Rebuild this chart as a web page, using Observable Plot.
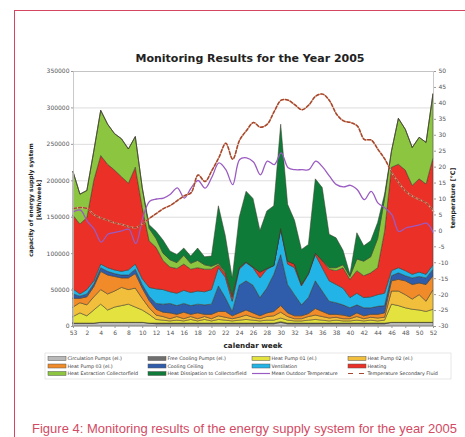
<!DOCTYPE html>
<html>
<head>
<meta charset="utf-8">
<script src="https://cdn.jsdelivr.net/npm/d3@7"></script>
<script src="https://cdn.jsdelivr.net/npm/@observablehq/plot@0.6"></script>
<style>
  html, body { margin: 0; padding: 0; background: #fff; }
  #wrap { position: relative; width: 465px; height: 437px; overflow: hidden; background: #fff; }
  #frame { position: absolute; left: 14px; top: 10px; width: 470px; height: 460px; border: 1.3px solid #d6455f; box-sizing: border-box; }
  #chart { position: absolute; left: 0; top: 0; }
  #overlay { position: absolute; left: 0; top: 0; pointer-events: none; }
</style>
</head>
<body>
<div id="wrap">
  <div id="frame"></div>
  <div id="chart"></div>
  <svg id="overlay" width="465" height="437"></svg>
</div>
<script>
// ---- data (values in thousand kWh/week; index 0 = week 53 of previous year) ----
const weekLabels = [53,1,2,3,4,5,6,7,8,9,10,11,12,13,14,15,16,17,18,19,20,21,22,23,24,25,26,27,28,29,30,31,32,33,34,35,36,37,38,39,40,41,42,43,44,45,46,47,48,49,50,51,52];

const circulationPumps = [4,4,4,4,5,5,5,5,5,5,5,4,3,3,3,3,3,3,3,3,3,3,3,3,3,3,3,3,3,3,5,3,3,3,3,3,3,3,3,3,3,3,3,3,3,3,5,5,5,5,5,5,5];
const freeCoolingPumps = [0,0,0,0,0,0,0,0,0,0,0,0,1,1,1,1,1,1,1,1,1,1,1,1,1,1,1,1,1,1,1,1,1,1,1,1,1,1,1,1,1,1,1,1,1,1,0,0,0,0,0,0,0];
const heatPump01 = [9,14,10,18,25,17,21,23,25,21,17,12,5,4,3,4,3,5,3,5,3,5,4,3,4,5,4,3,4,4,5,4,3,3,4,5,4,3,4,3,3,4,3,4,3,4,25,23,20,18,17,15,18];
const heatPump02 = [13,14,15,18,20,22,22,25,20,26,16,9,6,5,3,5,3,4,3,4,3,5,4,3,4,6,4,3,5,6,8,5,3,3,5,6,5,4,4,3,3,5,3,4,4,4,18,20,18,14,21,14,27];
const heatPump03 = [12,6,11,14,25,26,20,13,16,20,14,10,8,6,8,3,9,3,8,3,6,6,8,4,6,7,6,4,5,6,9,5,4,4,4,9,7,5,4,5,3,5,4,4,5,6,14,16,19,20,16,23,19];
const coolingCeiling = [6,3,4,4,5,5,4,4,4,6,5,6,8,11,13,12,12,12,12,13,14,35,19,6,38,40,38,25,34,51,70,39,29,15,22,38,28,18,16,14,12,11,11,9,11,10,7,9,7,9,9,9,9];
const ventilation = [7,3,6,4,5,5,5,5,7,7,8,12,20,20,16,17,18,18,18,18,20,25,28,14,22,25,24,27,26,12,35,28,37,26,32,36,32,28,25,23,14,16,14,15,16,17,7,7,7,5,6,5,6];
const heating = [101,96,99,138,149,142,137,130,119,133,98,64,57,40,34,34,36,32,32,31,28,4,5,6,2,1,1,8,1,0,1,4,5,2,1,2,10,16,19,28,25,31,30,33,37,85,142,142,138,122,128,124,147];
const heatExtraction = [60,41,37,40,62,55,50,52,47,42,27,17,12,10,10,8,12,8,10,6,4,2,2,2,0,0,0,0,0,0,0,0,0,0,0,0,0,2,4,4,4,16,20,22,40,45,22,63,56,52,57,57,88];
const heatDissipation = [0,0,0,0,0,0,0,0,0,0,0,5,10,18,12,11,10,10,17,11,14,79,50,24,69,97,94,57,79,82,143,78,60,48,40,102,100,46,41,20,3,36,21,22,22,6,0,0,0,0,0,0,0];

const meanOutdoorTemp = [6.0,6.5,3.0,0.5,-3.5,-1.0,-0.5,0.0,0.5,-4.0,4.0,9.3,10.0,10.3,11.5,13.5,10.3,13.5,15.8,13.4,16.9,21.3,19.2,14.5,22.4,22.9,21.6,17.6,21.9,20.8,24.5,19.8,19.2,19.2,19.2,21.9,20.0,17.1,14.5,13.8,14.3,12.9,9.8,12.4,8.7,7.2,5.0,-0.2,0.9,1.4,1.9,2.4,-0.7];
const secondaryFluidTemp = [7.0,7.3,7.0,5.0,4.0,3.3,2.5,2.0,1.3,1.0,2.3,4.0,5.5,7.0,8.0,9.5,11.0,12.0,17.5,15.5,19.0,23.0,27.5,22.5,28.5,31.5,34.0,32.5,33.5,37.5,41.0,41.0,39.5,38.0,39.5,42.3,42.9,40.8,36.6,34.5,34.0,32.9,28.7,28.5,25.5,22.4,18.2,15.0,12.4,10.8,9.8,8.7,6.1];

const seriesNames = ["Circulation Pumps (el.)","Free Cooling Pumps (el.)","Heat Pump 01 (el.)","Heat Pump 02 (el.)","Heat Pump 03 (el.)","Cooling Ceiling","Ventilation","Heating","Heat Extraction Collectorfield","Heat Dissipation to Collectorfield"];
const seriesColors = ["#b9b9b9","#6f6f6f","#e3e23e","#f1bf3c","#f18b2a","#2f5dab","#22b4e6","#eb3027","#8cc540","#0f7b38"];
const seriesValues = [circulationPumps,freeCoolingPumps,heatPump01,heatPump02,heatPump03,coolingCeiling,ventilation,heating,heatExtraction,heatDissipation];
const kwhTicks = [0,50,100,150,200,250,300,350];
const tempTicks = [-30,-25,-20,-15,-10,-5,0,5,10,15,20,25,30,35,40,45,50];
const weekTickIdx = d3.range(0, 53, 2);

// temperature axis (-30..50) shares the kWh axis (0..350)
const tMin = -30, tMax = 50, yMax = 350;
const tempToY = t => (t - tMin) * yMax / (tMax - tMin);

const rows = seriesNames.flatMap((name, s) => seriesValues[s].map((v, i) => ({week: i, series: name, value: v})));
const tempRows = (arr) => arr.map((t, i) => ({week: i, t}));

const chart = Plot.plot({
  width: 465,
  height: 345,
  marginLeft: 73,
  marginRight: 32,
  marginTop: 71,
  marginBottom: 19,
  style: {fontFamily: "DejaVu Sans", fontSize: "6px", background: "transparent", color: "#444"},
  x: {domain: [0, 52], axis: null},
  y: {domain: [0, 350], axis: null},
  color: {domain: seriesNames, range: seriesColors},
  marks: [
    Plot.gridY(kwhTicks, {stroke: "#d4d4d4", strokeOpacity: 1, strokeWidth: 0.8}),
    Plot.areaY(rows, {x: "week", y: "value", z: "series", fill: "series", order: seriesNames, stroke: "#3c3a2c", strokeWidth: 0.6, strokeOpacity: 0.85}),
    Plot.line(tempRows(meanOutdoorTemp), {x: "week", y: d => tempToY(d.t), stroke: "#9a5bc2", strokeWidth: 1.3, curve: "catmull-rom"}),
    Plot.line(tempRows(secondaryFluidTemp), {x: "week", y: d => tempToY(d.t), stroke: "#ecbfa6", strokeWidth: 1.5, curve: "catmull-rom"}),
    Plot.line(tempRows(secondaryFluidTemp), {x: "week", y: d => tempToY(d.t), stroke: "#a5472e", strokeWidth: 1.5, strokeDasharray: "3,2", curve: "catmull-rom"}),
    Plot.frame({stroke: "#bdbdbd", strokeWidth: 0.8}),
    Plot.axisX(weekTickIdx, {tickFormat: i => weekLabels[i], tickSize: 2, tickPadding: 2, fontSize: 6, label: null, stroke: "#999", fill: "#555"}),
    Plot.axisY(kwhTicks, {anchor: "left", tickFormat: d => String(d * 1000), tickSize: 2, tickPadding: 2, fontSize: 6, label: null, stroke: "#999", fill: "#555"}),
    Plot.axisY(tempTicks.map(tempToY), {anchor: "right", tickFormat: v => String(Math.round(v * (tMax - tMin) / yMax + tMin)), tickSize: 2, tickPadding: 3, fontSize: 6, label: null, stroke: "#999", fill: "#555"})
  ]
});
document.getElementById("chart").appendChild(chart);

// ---- overlay texts and legend ----
const ov = d3.select("#overlay");
ov.append("text").attr("x", 250).attr("y", 62).attr("text-anchor", "middle")
  .attr("font-family", "DejaVu Sans").attr("font-weight", "bold").attr("font-size", 11).attr("fill", "#222")
  .text("Monitoring Results for the Year 2005");
ov.append("text").attr("x", 253).attr("y", 348).attr("text-anchor", "middle")
  .attr("font-family", "DejaVu Sans").attr("font-weight", "bold").attr("font-size", 7.2).attr("fill", "#222")
  .text("calendar week");
ov.append("text").attr("transform", "translate(33,200) rotate(-90)").attr("text-anchor", "middle")
  .attr("font-family", "DejaVu Sans").attr("font-weight", "bold").attr("font-size", 6).attr("fill", "#222")
  .text("capacity of energy supply system");
ov.append("text").attr("transform", "translate(40.5,200) rotate(-90)").attr("text-anchor", "middle")
  .attr("font-family", "DejaVu Sans").attr("font-weight", "bold").attr("font-size", 6).attr("fill", "#222")
  .text("[kWh/week]");
ov.append("text").attr("transform", "translate(455,198) rotate(-90)").attr("text-anchor", "middle")
  .attr("font-family", "DejaVu Sans").attr("font-weight", "bold").attr("font-size", 6.3).attr("fill", "#222")
  .text("temperature [°C]");

// legend
ov.append("rect").attr("x", 45).attr("y", 353).attr("width", 406).attr("height", 26)
  .attr("fill", "none").attr("stroke", "#e2e2e2").attr("stroke-width", 0.8);
const legendItems = seriesNames.map((n, i) => ({name: n, color: seriesColors[i], type: "area"}))
  .concat([{name: "Mean Outdoor Temperature", color: "#9a5bc2", type: "line"},
           {name: "Temperature Secondary Fluid", color: "#a5472e", type: "dash"}]);
const colX = [48, 148, 252, 348], rowY = [358.5, 366, 373.5];
legendItems.forEach((it, i) => {
  const x = colX[i % 4], y = rowY[Math.floor(i / 4)];
  const g = ov.append("g");
  if (it.type === "area") {
    g.append("rect").attr("x", x).attr("y", y - 2).attr("width", 18).attr("height", 4)
      .attr("fill", it.color).attr("stroke", "#555").attr("stroke-width", 0.5);
  } else if (it.type === "line") {
    g.append("line").attr("x1", x).attr("x2", x + 18).attr("y1", y).attr("y2", y)
      .attr("stroke", it.color).attr("stroke-width", 1.2);
  } else {
    g.append("line").attr("x1", x).attr("x2", x + 18).attr("y1", y).attr("y2", y)
      .attr("stroke", it.color).attr("stroke-width", 1.2).attr("stroke-dasharray", "5,6");
  }
  g.append("text").attr("x", x + 19.5).attr("y", y).attr("dy", "0.35em")
    .attr("font-family", "DejaVu Sans").attr("font-size", 4.8).attr("fill", "#333").text(it.name);
});

// caption
ov.append("text").attr("x", 32).attr("y", 433)
  .attr("font-family", "Liberation Sans").attr("font-size", 12.6).attr("fill", "#d34a64")
  .attr("textLength", 425).attr("lengthAdjust", "spacingAndGlyphs")
  .text("Figure 4: Monitoring results of the energy supply system for the year 2005");
</script>
</body>
</html>
